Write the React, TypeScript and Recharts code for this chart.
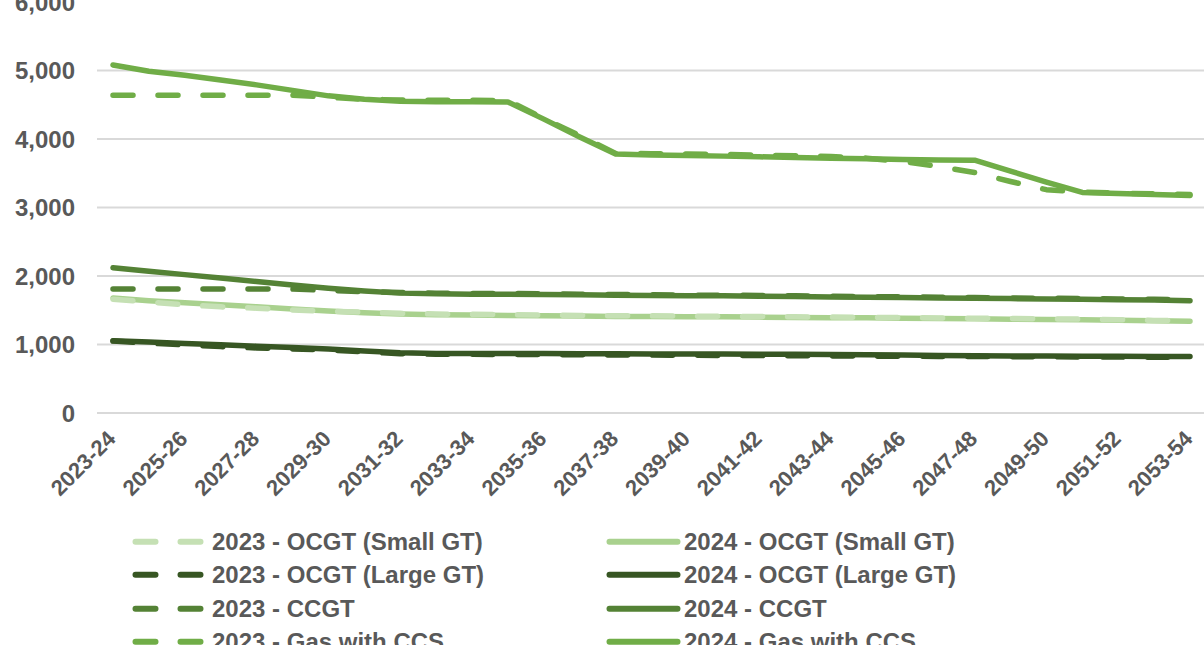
import React from 'react';
import { LineChart, Line, XAxis, YAxis, CartesianGrid, Legend } from 'recharts';

const years = [
  '2023-24', '2024-25', '2025-26', '2026-27', '2027-28', '2028-29', '2029-30', '2030-31',
  '2031-32', '2032-33', '2033-34', '2034-35', '2035-36', '2036-37', '2037-38', '2038-39',
  '2039-40', '2040-41', '2041-42', '2042-43', '2043-44', '2044-45', '2045-46', '2046-47',
  '2047-48', '2048-49', '2049-50', '2050-51', '2051-52', '2052-53', '2053-54',
];

const small2023 = [
  1660, 1620, 1580, 1550, 1530, 1505, 1485, 1470, 1455, 1445, 1440, 1435, 1430, 1425, 1420, 1418,
  1415, 1412, 1408, 1404, 1400, 1396, 1392, 1388, 1384, 1380, 1375, 1370, 1362, 1352, 1345,
];
const small2024 = [
  1680, 1640, 1610, 1580, 1550, 1520, 1490, 1465, 1445, 1435, 1430, 1425, 1420, 1415, 1410, 1410,
  1405, 1405, 1400, 1395, 1390, 1390, 1385, 1380, 1375, 1370, 1365, 1360, 1355, 1345, 1340,
];
const large2023 = [
  1050, 1020, 995, 970, 950, 935, 920, 895, 865, 858, 856, 855, 853, 850, 848, 845,
  843, 840, 838, 835, 833, 830, 828, 826, 824, 822, 820, 818, 816, 814, 812,
];
const large2024 = [
  1055, 1035, 1015, 995, 975, 955, 935, 905, 880, 870, 870, 870, 868, 866, 865, 863,
  862, 860, 858, 856, 855, 850, 845, 840, 835, 833, 832, 830, 828, 826, 825,
];
const ccgt2023 = [
  1810, 1810, 1810, 1810, 1810, 1810, 1790, 1770, 1760, 1750, 1745, 1745, 1740, 1735, 1730, 1725,
  1720, 1720, 1715, 1710, 1705, 1700, 1695, 1690, 1685, 1680, 1675, 1670, 1665, 1660, 1655,
];
const ccgt2024 = [
  2120, 2070, 2020, 1970, 1920, 1870, 1820, 1780, 1750, 1740, 1735, 1735, 1730, 1725, 1720, 1715,
  1710, 1710, 1705, 1700, 1695, 1690, 1685, 1680, 1675, 1670, 1665, 1660, 1655, 1650, 1640,
];
const ccs2023 = [
  4640, 4640, 4640, 4640, 4640, 4640, 4610, 4580, 4570, 4565, 4565, 4560, 4300, 4050, 3790, 3785,
  3780, 3775, 3765, 3755, 3745, 3720, 3670, 3600, 3510, 3380, 3260, 3225, 3210, 3200, 3190,
];
const ccs2024 = [
  5080, 4990, 4930, 4860, 4790, 4710, 4630, 4580, 4550, 4545, 4545, 4540, 4290, 4030, 3780, 3765,
  3760, 3750, 3740, 3730, 3720, 3710, 3700, 3695, 3690, 3530, 3370, 3220, 3205, 3190, 3175,
];

const yTicks = [0, 1000, 2000, 3000, 4000, 5000, 6000];
const Y_MAX = 6000;

const seriesNames = {
  small2023: '2023 - OCGT (Small GT)',
  small2024: '2024 - OCGT (Small GT)',
  large2023: '2023 - OCGT (Large GT)',
  large2024: '2024 - OCGT (Large GT)',
  ccgt2023: '2023 - CCGT',
  ccgt2024: '2024 - CCGT',
  ccs2023: '2023 - Gas with CCS',
  ccs2024: '2024 - Gas with CCS',
};

const seriesValues: Record<string, number[]> = {
  small2023, small2024, large2023, large2024, ccgt2023, ccgt2024, ccs2023, ccs2024,
};

// legend order (row-major, two columns)
const legendOrder = [
  'small2023', 'small2024', 'large2023', 'large2024', 'ccgt2023', 'ccgt2024', 'ccs2023', 'ccs2024',
];
// draw order
const drawOrder = [
  'small2024', 'small2023', 'large2024', 'large2023', 'ccgt2024', 'ccgt2023', 'ccs2024', 'ccs2023',
];

const styleOf: Record<string, { color: string; dashed: boolean }> = {
  small2023: { color: '#C5E0B4', dashed: true },
  small2024: { color: '#A9D18E', dashed: false },
  large2023: { color: '#375623', dashed: true },
  large2024: { color: '#375623', dashed: false },
  ccgt2023: { color: '#548235', dashed: true },
  ccgt2024: { color: '#548235', dashed: false },
  ccs2023: { color: '#70AD47', dashed: true },
  ccs2024: { color: '#70AD47', dashed: false },
};

const data = years.map((year, i) => {
  const row: Record<string, string | number> = { year };
  Object.keys(seriesValues).forEach((k) => {
    row[k] = seriesValues[k][i];
  });
  return row;
});

const FONT = '"Liberation Sans", Arial, Helvetica, sans-serif';
const TEXT = '#595959';
const DASH = '20 25';
const LW = 5.5;

const gridGenerator = (p: any) => {
  const vals = yTicks.filter((v) => v < Y_MAX);
  const sc = p && p.yAxis && p.yAxis.scale;
  if (typeof sc === 'function') return vals.map((v) => sc(v));
  if (sc && typeof sc.map === 'function') return vals.map((v) => sc.map(v));
  const top = p.offset.top;
  const h = p.offset.height;
  return vals.map((v) => top + h * (1 - v / Y_MAX));
};

const XTick = (props: any) => {
  const { x, y, payload } = props;
  return (
    <g transform={`translate(${x + 4},${y})`}>
      <text
        x={0}
        y={0}
        textAnchor="end"
        transform="rotate(-45)"
        fill={TEXT}
        fontSize={22}
        fontWeight="bold"
        fontFamily={FONT}
      >
        {payload.value}
      </text>
    </g>
  );
};

const YTick = (props: any) => {
  const { x, y, payload } = props;
  return (
    <text
      x={x}
      y={y}
      dy="0.36em"
      textAnchor="end"
      fill={TEXT}
      fontSize={24}
      fontWeight="bold"
      fontFamily={FONT}
    >
      {Number(payload.value).toLocaleString('en-US')}
    </text>
  );
};

const LegendContent = () => (
  <div style={{ position: 'relative', width: 1204, height: 140, fontFamily: FONT }}>
    {legendOrder.map((k, i) => {
      const col = i % 2;
      const row = Math.floor(i / 2);
      const st = styleOf[k];
      const iconLeft = col === 0 ? 130 : 604;
      const textLeft = col === 0 ? 212 : 684;
      const top = row * 33.4;
      return (
        <div key={k} style={{ position: 'absolute', left: 0, top, height: 33.4, width: 1204 }}>
          <svg
            width={80}
            height={33.4}
            style={{ position: 'absolute', left: iconLeft, top: 0 }}
          >
            <line
              x1={5.5}
              x2={st.dashed ? 70.5 : 73.5}
              y1={16.7}
              y2={16.7}
              stroke={st.color}
              strokeWidth={6}
              strokeLinecap="round"
              strokeDasharray={st.dashed ? DASH : undefined}
            />
          </svg>
          <span
            style={{
              position: 'absolute',
              left: textLeft,
              top: 0,
              lineHeight: '33.4px',
              fontSize: 24,
              fontWeight: 'bold',
              color: TEXT,
              whiteSpace: 'nowrap',
            }}
          >
            {(seriesNames as any)[k]}
          </span>
        </div>
      );
    })}
  </div>
);

export default function App() {
  return (
    <div
      style={{
        position: 'fixed',
        left: 0,
        top: 0,
        width: 1204,
        height: 645,
        overflow: 'hidden',
        background: '#ffffff',
      }}
    >
      <LineChart
        width={1240}
        height={660}
        data={data}
        margin={{ top: 2, right: 25, left: 0, bottom: 0 }}
      >
        <CartesianGrid
          vertical={false}
          stroke="#D9D9D9"
          strokeWidth={2}
          horizontalCoordinatesGenerator={gridGenerator}
        />
        <XAxis
          dataKey="year"
          interval={1}
          height={247}
          axisLine={false}
          tickLine={false}
          tickSize={0}
          tickMargin={27}
          padding={{ left: 16, right: 25 }}
          tick={<XTick />}
        />
        <YAxis
          width={97}
          domain={[0, Y_MAX]}
          ticks={yTicks}
          interval={0}
          axisLine={false}
          tickLine={false}
          tickSize={0}
          tickMargin={22}
          tick={<YTick />}
        />
        {drawOrder.map((k) => (
          <Line
            key={k}
            dataKey={k}
            name={(seriesNames as any)[k]}
            type="linear"
            stroke={styleOf[k].color}
            strokeWidth={LW}
            strokeLinecap="round"
            strokeLinejoin="round"
            strokeDasharray={styleOf[k].dashed ? DASH : undefined}
            dot={false}
            activeDot={false}
            isAnimationActive={false}
          />
        ))}
        <Legend
          layout="horizontal"
          verticalAlign="middle"
          align="center"
          wrapperStyle={{ top: 525, left: 0, width: 1204, height: 140 }}
          content={<LegendContent />}
        />
      </LineChart>
    </div>
  );
}
